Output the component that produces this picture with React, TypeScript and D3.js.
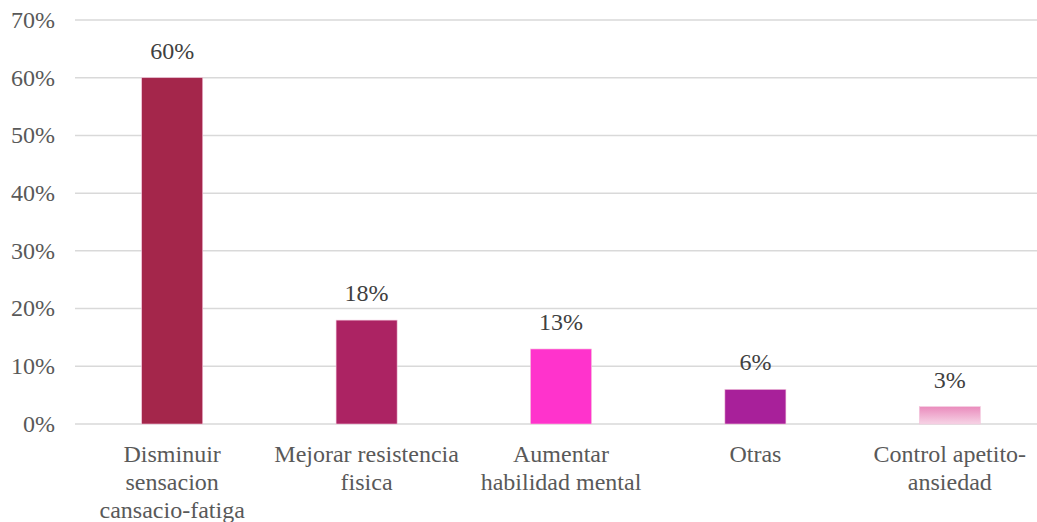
import React from "react";
import * as d3 from "d3";

const categories = [
  ["Disminuir", "sensacion", "cansacio-fatiga"],
  ["Mejorar resistencia", "fisica"],
  ["Aumentar", "habilidad mental"],
  ["Otras"],
  ["Control apetito-", "ansiedad"],
];
const values = [0.6, 0.18, 0.13, 0.06, 0.03];
const valueLabels = ["60%", "18%", "13%", "6%", "3%"];
const colors = ["#A4264B", "#AC2363", "#FF33CC", "#A8209A", "url(#g5)"];
const yTicks = [0, 0.1, 0.2, 0.3, 0.4, 0.5, 0.6, 0.7];

export default function App() {
  const W = 1037, H = 522;
  const x = d3.scaleBand<number>().domain(d3.range(values.length)).range([75, 1047]).paddingInner(0.686).paddingOuter(0.343);
  const y = d3.scaleLinear().domain([0, 0.7]).range([424, 20]);
  const font = "Liberation Serif, serif";
  const fmt = d3.format(".0%");
  return (
    <svg width={W} height={H} style={{ position: "absolute", left: 0, top: 0, fontFamily: font }}>
      <defs>
        <linearGradient id="g5" x1="0" y1="0" x2="0" y2="1">
          <stop offset="0%" stopColor="#EA8CBD" />
          <stop offset="100%" stopColor="#F6D3E5" />
        </linearGradient>
      </defs>
      <rect width={W} height={H} fill="#fff" />
      {yTicks.map((t) => (
        <g key={t}>
          <line x1={75} x2={1037} y1={y(t)} y2={y(t)} stroke="#D9D9D9" strokeWidth={1.5} />
          <text x={55} y={y(t)} dy="0.33em" textAnchor="end" fontSize={24} fill="#595959" style={{ fontFamily: font }}>{fmt(t)}</text>
        </g>
      ))}
      {values.map((v, i) => {
        const bx = x(i)!;
        const bw = x.bandwidth();
        const cx = bx + bw / 2;
        return (
          <g key={i}>
            <rect x={bx} y={y(v)} width={bw} height={y(0) - y(v)} fill={colors[i]} stroke="#F3C6DC" strokeWidth={0.6} />
            <text x={cx} y={y(v) - 19} textAnchor="middle" fontSize={24} fill="#404040" style={{ fontFamily: font }}>{valueLabels[i]}</text>
            {categories[i].map((line, j) => (
              <text key={j} x={cx} y={462 + j * 28} textAnchor="middle" fontSize={24} fill="#595959" style={{ fontFamily: font }}>{line}</text>
            ))}
          </g>
        );
      })}
    </svg>
  );
}
